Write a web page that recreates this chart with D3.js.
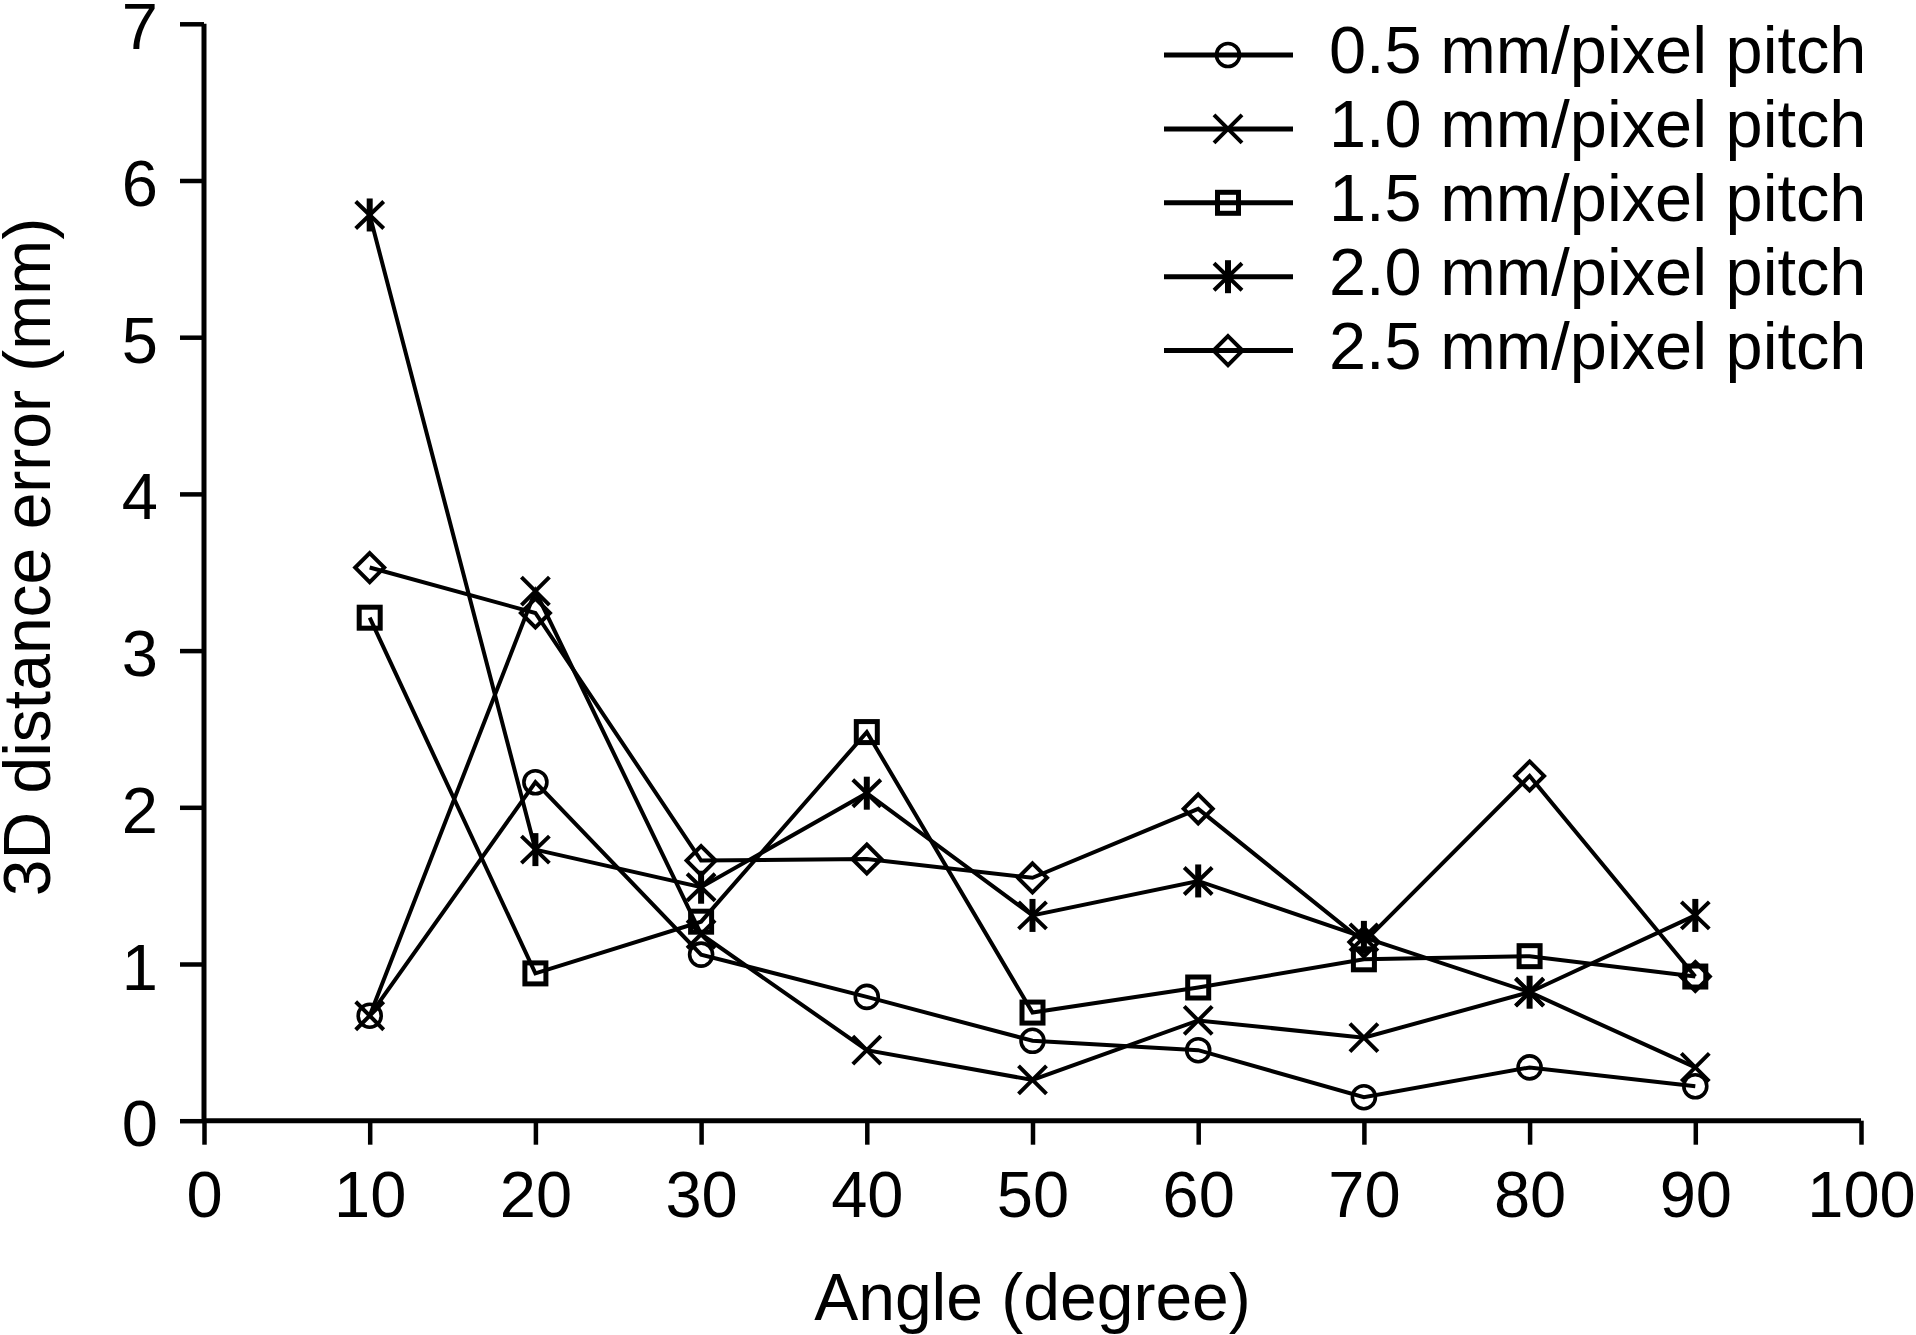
<!DOCTYPE html>
<html>
<head>
<meta charset="utf-8">
<script src="https://cdn.jsdelivr.net/npm/d3@7"></script>
<style>
  html, body { margin: 0; padding: 0; background: #fff; }
  svg { display: block; }
  text { font-family: "Liberation Sans", Arial, Helvetica, sans-serif; fill: #000; }
</style>
</head>
<body>
<svg id="chart" width="1916" height="1335"></svg>
<script>
// ---- data ----
const angles = [10, 20, 30, 40, 50, 60, 70, 80, 90];
const pitch05 = [0.67, 2.16, 1.06, 0.79, 0.51, 0.45, 0.15, 0.34, 0.22];
const pitch10 = [0.67, 3.38, 1.19, 0.45, 0.26, 0.64, 0.53, 0.82, 0.34];
const pitch15 = [3.21, 0.94, 1.27, 2.48, 0.69, 0.85, 1.03, 1.05, 0.92];
const pitch20 = [5.78, 1.73, 1.49, 2.09, 1.31, 1.53, 1.17, 0.82, 1.31];
const pitch25 = [3.53, 3.24, 1.66, 1.67, 1.55, 1.99, 1.14, 2.20, 0.92];
const seriesNames = ["0.5 mm/pixel pitch", "1.0 mm/pixel pitch", "1.5 mm/pixel pitch", "2.0 mm/pixel pitch", "2.5 mm/pixel pitch"];
const seriesMarkers = ["circle", "cross", "square", "asterisk", "diamond"];
const xTicks = [0, 10, 20, 30, 40, 50, 60, 70, 80, 90, 100];
const yTicks = [0, 1, 2, 3, 4, 5, 6, 7];
const xTitle = "Angle (degree)";
const yTitle = "3D distance error (mm)";

const seriesValues = [pitch05, pitch10, pitch15, pitch20, pitch25];

// ---- layout ----
const svg = d3.select("#chart");
const x = d3.scaleLinear().domain([0, 100]).range([204, 1861]);
const y = d3.scaleLinear().domain([0, 7]).range([1120.7, 23.8]);
const FONT = 65;

// markers
function drawMarker(g, type, cx, cy) {
  const m = g.append("g").attr("transform", `translate(${cx},${cy})`)
    .attr("fill", "none").attr("stroke", "#000");
  if (type === "circle") {
    m.append("circle").attr("r", 11.5).attr("stroke-width", 3.6);
  } else if (type === "square") {
    m.append("rect").attr("x", -10.5).attr("y", -10.5).attr("width", 21).attr("height", 21).attr("stroke-width", 5);
  } else if (type === "diamond") {
    m.append("path").attr("d", "M0,-14.5L14.5,0L0,14.5L-14.5,0Z").attr("stroke-width", 4);
  } else if (type === "cross") {
    m.append("path").attr("d", "M-14,-14L14,14M-14,14L14,-14").attr("stroke-width", 4);
  } else if (type === "asterisk") {
    m.append("path").attr("d", "M-14,-13.5L14,13.5M-14,13.5L14,-13.5").attr("stroke-width", 4);
    m.append("path").attr("d", "M0,-16.5L0,16.5").attr("stroke-width", 6);
  }
}

// series lines + markers
const line = d3.line().x((d, i) => x(angles[i])).y(d => y(d));
const plot = svg.append("g");
seriesValues.forEach((vals, s) => {
  plot.append("path").datum(vals).attr("d", line)
    .attr("fill", "none").attr("stroke", "#000").attr("stroke-width", 4)
    .attr("stroke-linejoin", "miter");
});
seriesValues.forEach((vals, s) => {
  vals.forEach((v, i) => drawMarker(plot, seriesMarkers[s], x(angles[i]), y(v)));
});

// axes
const xAxis = d3.axisBottom(x).tickValues(xTicks).tickSize(24).tickFormat(d3.format("d"));
const gx = svg.append("g").attr("transform", `translate(0,${y(0)})`).call(xAxis);
gx.select(".domain").attr("d", `M${x(0)},0H${x(100)}`).attr("stroke", "#000").attr("stroke-width", 5);
gx.selectAll(".tick line").attr("stroke", "#000").attr("stroke-width", 4.5);
gx.selectAll(".tick text").attr("y", 96).attr("dy", null)
  .style("font-size", FONT + "px").attr("font-family", null);

const yAxis = d3.axisLeft(y).tickValues(yTicks).tickSize(24).tickFormat(d3.format("d"));
const gy = svg.append("g").attr("transform", `translate(${x(0)},0)`).call(yAxis);
gy.select(".domain").attr("d", `M0,${y(7)}V${y(0)}`).attr("stroke", "#000").attr("stroke-width", 5);
gy.selectAll(".tick line").attr("stroke", "#000").attr("stroke-width", 4.5);
gy.selectAll(".tick text").attr("x", -46).attr("dy", null).attr("y", 25)
  .style("font-size", FONT + "px").attr("font-family", null);

// titles
svg.append("text").attr("x", x(50)).attr("y", 1320).attr("text-anchor", "middle")
  .style("font-size", "66px").text(xTitle);
svg.append("text").attr("transform", "translate(50,557) rotate(-90)").attr("text-anchor", "middle")
  .style("font-size", "66px").text(yTitle);

// legend
const legend = svg.append("g");
seriesNames.forEach((name, i) => {
  const cy = 55 + i * 73.9;
  legend.append("line").attr("x1", 1164).attr("x2", 1293).attr("y1", cy).attr("y2", cy)
    .attr("stroke", "#000").attr("stroke-width", 5);
  drawMarker(legend, seriesMarkers[i], 1228, cy);
  legend.append("text").attr("x", 1329).attr("y", cy + 18).style("font-size", "66.7px").text(name);
});
</script>
</body>
</html>
